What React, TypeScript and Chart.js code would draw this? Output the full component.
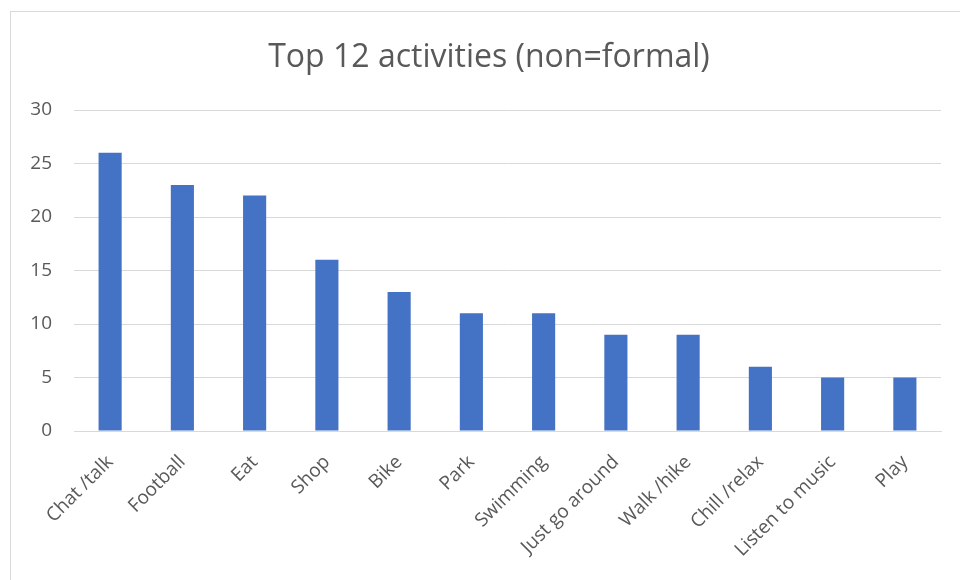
import React, { useEffect, useRef } from "react";
import { Chart, registerables } from "chart.js";

Chart.register(...registerables);

const categories = [
  "Chat /talk",
  "Football",
  "Eat",
  "Shop",
  "Bike",
  "Park",
  "Swimming",
  "Just go around",
  "Walk /hike",
  "Chill /relax",
  "Listen to music",
  "Play",
];
const values = [26, 23, 22, 16, 13, 11, 11, 9, 9, 6, 5, 5];
const titleText = "Top 12 activities (non=formal)";

const FONT = "'Open Sans', 'Noto Sans', sans-serif";
const TEXT = "#595959";

const titlePlugin = {
  id: "customTitle",
  afterDraw(chart: any) {
    const ctx = chart.ctx;
    ctx.save();
    ctx.font = `32px ${FONT}`;
    ctx.fillStyle = TEXT;
    ctx.textAlign = "center";
    ctx.textBaseline = "alphabetic";
    ctx.fillText(titleText, 489, 67);
    ctx.restore();
  },
};

export default function App() {
  const ref = useRef<HTMLCanvasElement>(null);
  useEffect(() => {
    if (!ref.current) return;
    const chart = new Chart(ref.current, {
      type: "bar",
      data: {
        labels: categories,
        datasets: [
          {
            data: values,
            backgroundColor: "#4472C4",
            borderWidth: 0,
            barPercentage: 0.32,
            categoryPercentage: 1,
          },
        ],
      },
      options: {
        responsive: false,
        animation: false,
        devicePixelRatio: 1,
        layout: { padding: { left: 10, right: 19, top: 110, bottom: 0 } },
        plugins: {
          legend: { display: false },
          title: { display: false },
          tooltip: { enabled: false },
        },
        scales: {
          x: {
            grid: { display: false, drawTicks: false },
            border: { display: true, color: "#d9d9d9", width: 1 },
            ticks: {
              color: TEXT,
              font: { family: FONT, size: 19 },
              minRotation: 45,
              maxRotation: 45,
              padding: 20,
              autoSkip: false,
            },
            afterFit(scale: any) {
              scale.height = 149;
            },
          },
          y: {
            min: 0,
            max: 30,
            ticks: {
              stepSize: 5,
              color: TEXT,
              font: { family: FONT, size: 19 },
              padding: 22,
            },
            grid: { color: "#d9d9d9", drawTicks: false },
            border: { display: false },
            afterFit(scale: any) {
              scale.width = 64;
            },
          },
        },
      },
      plugins: [titlePlugin],
    });
    return () => chart.destroy();
  }, []);

  return (
    <div style={{ position: "fixed", left: 0, top: 0, width: 960, height: 580, background: "#fff" }}>
      <div
        style={{
          position: "absolute",
          left: 10,
          top: 11,
          width: 960,
          height: 580,
          borderTop: "1px solid #d9d9d9",
          borderLeft: "1px solid #d9d9d9",
        }}
      />
      <canvas ref={ref} width={960} height={580} style={{ position: "absolute", left: 0, top: 0 }} />
    </div>
  );
}
